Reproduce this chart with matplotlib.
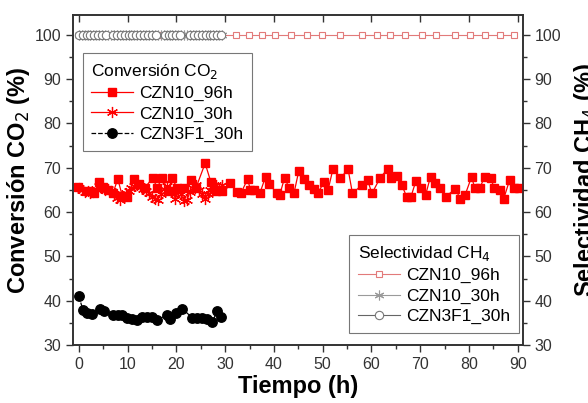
import matplotlib
matplotlib.use("Agg")
import matplotlib.pyplot as plt
from matplotlib.ticker import MultipleLocator

plt.rcParams['font.family'] = ['Liberation Sans', 'DejaVu Sans']

# --- conversion CO2 (%) ---
t_96h = [-0.1, 1.6, 3.1, 4.1, 5.0, 6.0, 7.0, 8.0, 8.9, 9.9, 11.4, 12.4, 13.5, 15.2, 16.0,
         17.1, 18.4, 19.1, 20.1, 21.6, 23.0, 24.0, 25.9, 27.1, 28.1, 29.4, 30.9, 32.5,
         33.2, 34.6, 35.2, 35.9, 37.1, 38.3, 39.0, 40.7, 41.2, 42.2, 43.1, 44.1, 45.1,
         46.1, 47.1, 48.2, 49.0, 50.2, 51.1, 52.1, 53.6, 55.2, 56.1, 58.0, 59.2, 60.1,
         61.8, 63.3, 64.1, 65.2, 66.2, 67.2, 68.1, 69.1, 70.1, 71.1, 72.1, 73.1, 74.1,
         75.2, 77.2, 78.2, 79.2, 80.5, 81.2, 82.2, 83.2, 84.4, 85.2, 86.3, 87.1, 88.3,
         89.3, 90.3]
conv_96h = [65.7, 64.8, 64.2, 66.7, 65.7, 65.0, 64.2, 67.5, 63.7, 63.5, 67.5, 66.3, 65.4,
            67.8, 65.5, 67.6, 64.8, 67.8, 65.5, 65.4, 67.2, 65.4, 71.0, 66.7, 64.8, 64.8,
            66.5, 64.6, 64.2, 67.4, 65.0, 65.0, 64.2, 68.0, 66.3, 64.2, 63.9, 67.8, 65.4,
            64.2, 69.3, 67.4, 66.1, 65.1, 64.2, 66.7, 65.0, 69.7, 67.6, 69.7, 64.2, 66.1,
            67.2, 64.2, 67.8, 69.7, 67.6, 68.1, 66.1, 63.5, 63.5, 67.0, 65.5, 63.9, 68.0,
            66.5, 65.5, 63.5, 65.2, 63.0, 63.9, 67.9, 65.4, 65.5, 67.9, 67.6, 65.4, 65.0,
            63.0, 67.2, 65.4, 65.4]

t_30h = [0, 0.6, 1.2, 1.8, 2.4, 3.0, 3.6, 4.2, 4.8, 5.4, 6.0, 6.6, 7.2, 7.8, 8.4, 9.0,
         9.6, 10.2, 10.8, 11.4, 12.0, 12.6, 13.2, 13.8, 14.4, 15.0, 15.6, 16.2, 16.8,
         17.4, 18.0, 18.6, 19.2, 19.8, 20.4, 21.0, 21.6, 22.2, 22.8, 23.4, 24.0, 24.6,
         25.2, 25.8, 26.4, 27.0, 27.6, 28.2, 28.8, 29.4]
conv_30h = [65.5, 65.0, 64.5, 64.8, 64.2, 64.5, 65.2, 65.8, 65.5, 65.0, 65.3, 64.8, 64.0,
            63.2, 62.8, 63.5, 64.2, 64.8, 65.5, 65.8, 66.2, 65.8, 65.2, 64.8, 64.2, 63.5,
            63.0, 62.8, 64.0, 65.2, 65.8, 65.2, 64.5, 63.0, 64.5, 64.0, 62.5, 62.8, 64.5,
            65.5, 66.0, 65.0, 64.0, 63.0, 64.0, 65.0, 65.8, 66.2, 65.5, 66.0]

t_3f1 = [0, 0.9, 1.7, 2.7, 4.3, 5.2, 7.0, 8.0, 8.9, 9.9, 11.0, 11.9, 13.0, 14.0, 15.0,
         16.1, 18.0, 18.7, 19.9, 21.2, 23.3, 24.2, 25.2, 26.2, 27.3, 28.4, 29.2]
conv_3f1 = [41.0, 37.8, 37.3, 36.9, 38.1, 37.6, 36.8, 36.7, 36.7, 36.1, 35.9, 35.6, 36.3,
            36.4, 36.3, 35.6, 36.8, 35.9, 37.3, 38.2, 36.1, 36.0, 36.0, 35.8, 35.1, 37.6,
            36.4]

# --- selectividad CH4 (%) ---
t_sel_96h = [2.0, 5.0, 8.0, 11.0, 14.0, 17.0, 20.0, 23.0, 26.0, 29.0, 32.2, 34.9, 37.6,
             40.3, 43.6, 46.7, 49.9, 53.6, 58.0, 61.1, 63.8, 66.9, 70.3, 73.3, 77.1, 80.1,
             83.2, 86.3, 89.3]
sel_96h = [100] * len(t_sel_96h)
t_sel_30h = t_30h
sel_30h = [100] * len(t_sel_30h)
t_sel_3f1 = [0, 0.8, 1.6, 2.4, 3.2, 4.0, 4.8, 5.6, 7.0, 7.8, 8.6, 9.4, 10.2, 11.0, 11.8,
             12.6, 13.4, 14.2, 15.0, 15.8, 17.6, 18.4, 19.2, 20.0, 20.8, 22.8, 23.6, 24.4,
             25.2, 26.0, 26.8, 27.6, 28.4, 29.2]
sel_3f1 = [100] * len(t_sel_3f1)

fig = plt.figure(figsize=(5.88, 4.03), dpi=100)
ax = fig.add_axes([0.124, 0.144, 0.765, 0.819])
ax2 = ax.twinx()

# conversion series
ax.plot(t_96h, conv_96h, color="red", lw=0.9, marker="s", ms=5.5, mec="red",
        label="CZN10_96h", zorder=3)
ax.plot(t_30h, conv_30h, color="red", lw=0.9, marker=(6, 2, 0), ms=8, mew=0.9,
        label="CZN10_30h", zorder=2)
ax.plot(t_3f1, conv_3f1, color="black", lw=0.9, ls="--", marker="o", ms=6.8,
        label="CZN3F1_30h", zorder=3)

# selectivity series
ax2.plot(t_sel_96h, sel_96h, color="#e27a7a", lw=0.8, marker="s", ms=5,
         mfc="white", mec="#e27a7a", mew=0.8, label="CZN10_96h")
ax2.plot(t_sel_30h, sel_30h, color="#9a9a9a", lw=0.8, marker=(6, 2, 0), ms=7,
         mew=0.8, label="CZN10_30h")
ax2.plot(t_sel_3f1, sel_3f1, color="#666666", lw=0.8, marker="o", ms=6,
         mfc="white", mec="#777777", mew=0.8, label="CZN3F1_30h")

for a in (ax, ax2):
    a.set_xlim(-1.2, 91)
    a.set_ylim(30, 104.5)
    a.yaxis.set_major_locator(MultipleLocator(10))
    a.yaxis.set_minor_locator(MultipleLocator(5))

ax.xaxis.set_major_locator(MultipleLocator(10))
ax.xaxis.set_minor_locator(MultipleLocator(5))
ax.tick_params(axis="both", which="major", direction="out", length=5, width=1,
               labelsize=11.5, colors="#333333", labelcolor="#333333")
ax.tick_params(axis="both", which="minor", direction="out", length=3, width=1,
               colors="#333333")
ax.tick_params(axis="x", top=True, which="major")
ax2.tick_params(axis="y", which="major", direction="out", length=5, width=1,
                labelsize=11.5, colors="#333333", labelcolor="#333333")
ax2.tick_params(axis="y", which="minor", direction="out", length=3, width=1,
                colors="#333333")
for a in (ax, ax2):
    for s in a.spines.values():
        s.set_linewidth(1.2)
        s.set_color("#333333")

# top ticks point inward
for tk in ax.xaxis.get_major_ticks():
    tk.tick2line.set_marker(3)
    tk.tick2line.set_markersize(5)

ax.set_xlabel("Tiempo (h)", fontsize=17, fontweight="bold", labelpad=2)
ax.set_ylabel("Conversión CO$_2$ (%)", fontsize=17, fontweight="bold", labelpad=2)
ax2.set_ylabel("Selectividad CH$_4$ (%)", fontsize=17, fontweight="bold",
               labelpad=8)

leg1 = ax.legend(title="Conversión CO$_2$", loc="upper left",
                 bbox_to_anchor=(0.022, 0.885), fontsize=12.5, title_fontsize=12.5,
                 frameon=True, fancybox=False, edgecolor="#555555",
                 handlelength=2.4, handletextpad=0.35, borderpad=0.5,
                 labelspacing=0.3, borderaxespad=0)
leg1.get_frame().set_linewidth(0.8)
leg1._legend_box.align = "left"

leg2 = ax2.legend(title="Selectividad CH$_4$", loc="lower right",
                  bbox_to_anchor=(0.991, 0.036), fontsize=12.5, title_fontsize=12.5,
                  frameon=True, fancybox=False, edgecolor="#555555",
                  handlelength=2.4, handletextpad=0.35, borderpad=0.5,
                  labelspacing=0.3, borderaxespad=0)
leg2.get_frame().set_linewidth(0.8)
leg2._legend_box.align = "left"

fig.savefig("out.png", dpi=100)
plt.close(fig)
